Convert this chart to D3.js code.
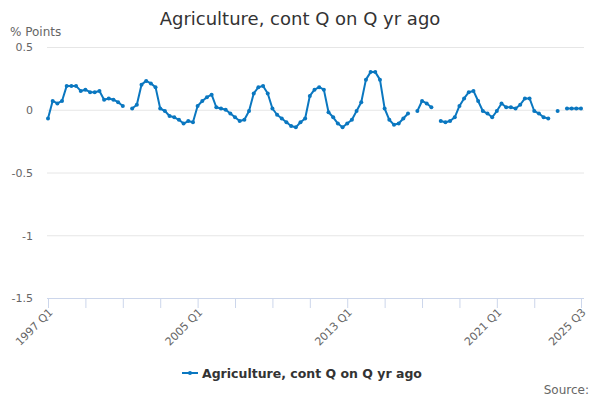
<!DOCTYPE html>
<html><head><meta charset="utf-8">
<script src="https://cdn.jsdelivr.net/npm/d3@7"></script>
<style>body{margin:0;background:#fff;} svg{font-family:"DejaVu Sans",sans-serif;}</style>
</head><body><svg id="c" width="600" height="400"></svg>
<script>
const title = "Agriculture, cont Q on Q yr ago";
const seriesName = "Agriculture, cont Q on Q yr ago";
const startYear = 1997;
const categories = [];
for (let y = startYear; y <= 2025; y++) for (let q = 1; q <= 4; q++) { if (y === 2025 && q > 3) break; categories.push(y + " Q" + q); }
const values = [
 -0.07, 0.07, 0.05, 0.07, 0.19, 0.19, 0.19, 0.15, 0.16, 0.14, 0.14, 0.15, 0.08, 0.09, 0.08, 0.06,
 0.03, null, 0.01, 0.04, 0.20, 0.23, 0.21, 0.18, 0.01, -0.01, -0.05, -0.06, -0.08, -0.11, -0.09, -0.10,
 0.03, 0.07, 0.10, 0.12, 0.02, 0.01, 0.00, -0.03, -0.06, -0.09, -0.08, -0.01, 0.13, 0.18, 0.19, 0.13,
 0.01, -0.04, -0.07, -0.10, -0.13, -0.14, -0.10, -0.07, 0.11, 0.16, 0.18, 0.16, -0.02, -0.06, -0.11, -0.14,
 -0.11, -0.08, -0.01, 0.06, 0.24, 0.30, 0.30, 0.24, 0.01, -0.08, -0.12, -0.11, -0.07, -0.03, null, -0.01,
 0.07, 0.05, 0.02, null, -0.09, -0.10, -0.09, -0.06, 0.03, 0.09, 0.14, 0.15, 0.07, -0.01, -0.03, -0.06,
 -0.01, 0.05, 0.02, 0.02, 0.01, 0.04, 0.09, 0.09, -0.01, -0.03, -0.06, -0.07, null, -0.01, null, 0.01,
 0.01, 0.01, 0.01
];
const yTicks = [0.5, 0, -0.5, -1, -1.5];
const yTickLabels = ["0.5", "0", "-0.5", "-1", "-1.5"];
const xTickCats = ["1997 Q1","1999 Q1","2001 Q1","2003 Q1","2005 Q1","2007 Q1","2009 Q1","2011 Q1","2013 Q1","2015 Q1","2017 Q1","2019 Q1","2021 Q1","2023 Q1","2025 Q3"];
const xLabelCats = ["1997 Q1","2005 Q1","2013 Q1","2021 Q1","2025 Q3"];

const color = "#0a77c0";
const svg = d3.select("#c");
const x = d3.scalePoint().domain(categories).range([48, 581]);
const y = d3.scaleLinear().domain([-1.5, 0.5]).range([298, 47]);

// title
svg.append("text").attr("x", 300).attr("y", 25).attr("text-anchor", "middle")
  .attr("font-size", 18).attr("fill", "#333").text(title);
svg.append("text").attr("x", 10).attr("y", 36).attr("font-size", 12).attr("fill", "#666").text("% Points");

// grid
const yAxis = d3.axisLeft(y).tickValues(yTicks).tickFormat((d, i) => yTickLabels[i]).tickSize(-537).tickPadding(14);
const gy = svg.append("g").attr("transform", "translate(47,0)").call(yAxis);
gy.select(".domain").remove();
gy.selectAll("line").attr("stroke", "#e6e6e6");
gy.selectAll("text").attr("font-size", 11).attr("fill", "#666").attr("font-family", "DejaVu Sans, sans-serif").attr("dy", "0.35em");

// x axis
const xAxis = d3.axisBottom(x).tickValues(xTickCats).tickSize(10).tickFormat(d => xLabelCats.includes(d) ? d : "");
const gx = svg.append("g").attr("transform", "translate(0,298)").call(xAxis);
gx.select(".domain").attr("d", "M47,0.5H584").attr("stroke", "#ccd6eb");
gx.selectAll(".tick line").attr("stroke", "#ccd6eb");
gx.selectAll(".tick text").attr("font-size", 11).attr("fill", "#666").attr("font-family", "DejaVu Sans, sans-serif")
  .attr("text-anchor", "end").attr("y", 0).attr("dy", 0)
  .attr("transform", "translate(5,15) rotate(-45)");

// line
const pts = categories.map((c, i) => ({c, v: values[i]}));
const line = d3.line().defined(d => d.v !== null).x(d => x(d.c)).y(d => y(d.v));
svg.append("path").datum(pts).attr("d", line).attr("fill", "none").attr("stroke", color).attr("stroke-width", 2).attr("stroke-linejoin", "round");
svg.append("g").selectAll("circle").data(pts.filter(d => d.v !== null)).join("circle")
  .attr("cx", d => x(d.c)).attr("cy", d => y(d.v)).attr("r", 2).attr("fill", color);

// legend
const lg = svg.append("g");
lg.append("line").attr("x1", 182).attr("x2", 198).attr("y1", 373).attr("y2", 373).attr("stroke", color).attr("stroke-width", 2);
lg.append("circle").attr("cx", 190).attr("cy", 373).attr("r", 2).attr("fill", color);
lg.append("text").attr("x", 202).attr("y", 377.5).attr("font-size", 12.5).attr("font-weight", "bold").attr("fill", "#333").text(seriesName);

svg.append("text").attr("x", 589).attr("y", 394).attr("text-anchor", "end").attr("font-size", 12).attr("fill", "#666").text("Source:");
</script></body></html>
